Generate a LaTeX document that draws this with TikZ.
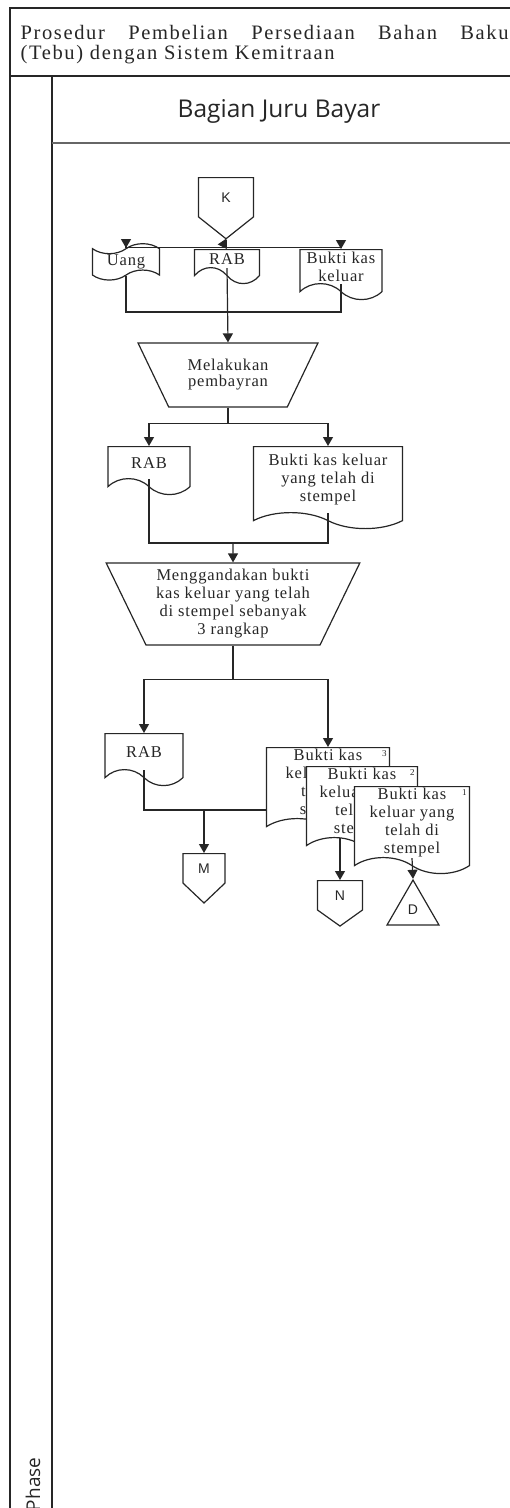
\documentclass[tikz,border=0pt]{standalone}
\usepackage{fontspec}
\setmainfont{Liberation Serif}
\newfontfamily\titlefont[LetterSpace=8]{Liberation Serif}
\newfontfamily\docfont[LetterSpace=5]{Liberation Serif}
\newfontfamily\lanefont{Open Sans}
\newfontfamily\markfont{Liberation Sans}
\usetikzlibrary{shapes.geometric,shapes.symbols,arrows.meta}

\tikzset{
  doc/.style={tape,draw,fill=white,tape bend top=none,tape bend bottom=out and in,
    tape bend height=16pt,align=center,inner sep=1pt,font=\docfont\fontsize{16.5}{18}\selectfont},
  money/.style={tape,draw,fill=white,tape bend height=10pt,align=center,inner sep=1pt,
    font=\docfont\fontsize{16.5}{18}\selectfont},
  manual/.style={trapezium,draw,shape border rotate=180,trapezium stretches=true,
    align=center,inner sep=0pt,font=\docfont\fontsize{16.5}{18}\selectfont},
  offpage/.style={signal,signal to=south,signal from=nowhere,draw,inner sep=0pt,
    font=\markfont\fontsize{14}{14}\selectfont},
  num/.style={anchor=north east,inner sep=3pt,font=\docfont\fontsize{9}{9}\selectfont},
  arr/.style={-{Triangle[width=10pt,length=9pt]}},
}

\begin{document}
\begin{tikzpicture}[x=1pt,y=-1pt,line width=1.2pt,color=black!85]
\useasboundingbox (0,0) rectangle (510,1508);
% lane frame
\draw (10,1508) -- (10,8) -- (510,8);
\draw (10,76) -- (510,76);
\draw (52,76) -- (52,1508);
\draw[line width=1.8pt,black!60] (52,143) -- (510,143);
\node (title1) [anchor=base west,inner sep=0pt,font=\titlefont\fontsize{20.5}{20}\selectfont]
  at (20,39) {\makebox[488pt][s]{Prosedur Pembelian Persediaan Bahan Baku}};
\node (title2) [anchor=base west,inner sep=0pt,font=\titlefont\fontsize{20.5}{20}\selectfont]
  at (20,59) {(Tebu) dengan Sistem Kemitraan};
\node (lane) [font=\lanefont\fontsize{24.5}{24.5}\selectfont] at (279,111) {Bagian Juru Bayar};
\node (phase) [rotate=90,anchor=east,inner sep=0pt,font=\lanefont\fontsize{19}{19}\selectfont]
  at (33,1457) {Phase};

% flow
\node (k) [offpage,minimum width=55,minimum height=43,signal pointer angle=103,anchor=north] at (226,177) {K};
\node (uang) [money,minimum width=67,minimum height=30,anchor=north] at (126,248) {Uang};
\node (rab1) [doc,minimum width=65,minimum height=34,anchor=north] at (227,249) {RAB};
\node (bkk1) [doc,minimum width=82,minimum height=50,anchor=north] at (341,249) {Bukti kas\\keluar};
\node (pay) [manual,minimum width=180,minimum height=64,trapezium angle=56] at (228,375) {Melakukan\\[-2pt]pembayran};
\node (rab2) [doc,minimum width=82,minimum height=48,anchor=north] at (149,446) {RAB};
\node (bkk2) [doc,minimum width=149,minimum height=82,anchor=north] at (328,446) {Bukti kas keluar\\yang telah di\\stempel};
\node (dup) [manual,minimum width=254,minimum height=82,trapezium angle=63] at (233,604) {Menggandakan bukti\\kas keluar yang telah\\di stempel sebanyak\\3 rangkap};
\node (rab3) [doc,minimum width=78,minimum height=52,anchor=north] at (144,733) {RAB};
\node (bk3) [doc,minimum width=123,minimum height=86,anchor=north,label={[num]north east:3}] at (328,747) {Bukti kas\\keluar yang\\telah di\\stempel};
\node (bk2) [doc,minimum width=111,minimum height=82,anchor=north,label={[num]north east:2}] at (362,766) {Bukti kas\\keluar yang\\telah di\\stempel};
\node (bk1) [doc,minimum width=115,minimum height=78,anchor=north,label={[num]north east:1}] at (412,786) {Bukti kas\\keluar yang\\telah di\\stempel};
\node (m) [offpage,minimum width=42,minimum height=35,signal pointer angle=93,anchor=north] at (204,853) {M};
\node (n) [offpage,minimum width=45,minimum height=33,signal pointer angle=109,anchor=north] at (340,880) {N};
\node (d) [regular polygon,regular polygon sides=3,draw,minimum size=60,inner sep=0pt,
  font=\markfont\fontsize{14}{14}\selectfont] at (413,910) {D};

\coordinate (j1) at ([yshift=-8]k.south);
\coordinate (j2) at (227,312);
\coordinate (j3) at ([yshift=-16]pay.south);
\coordinate (j4) at (233,543);
\coordinate (j5) at ([yshift=-34]dup.south);
\coordinate (j6) at (204,810);

\draw (k.south) -- (j1);
\draw[arr] (j1) -| (uang.north);
\draw[arr] (j1) -- (rab1.north);
\draw[arr] (j1) -| (bkk1.north);
\draw (uang.south) |- (j2) -| (bkk1.south);
\draw[arr] (rab1.south) -- (pay.north);
\draw (pay.south) -- (j3);
\draw[arr] (j3) -| (rab2.north);
\draw[arr] (j3) -| (bkk2.north);
\draw (rab2.south) |- (j4) -| (bkk2.south);
\draw[arr] (j4) -- (dup.north);
\draw (dup.south) -- (j5);
\draw[arr] (j5) -| (rab3.north);
\draw[arr] (j5) -| (bk3.north);
\draw (rab3.south) |- (j6) -- (j6 -| bk3.west);
\draw[arr] (j6) -- (m.north);
\draw[arr] (n.north |- bk2.south) -- (n.north);
\draw[arr] (bk1.south) -- (d.north);
\end{tikzpicture}
\end{document}
